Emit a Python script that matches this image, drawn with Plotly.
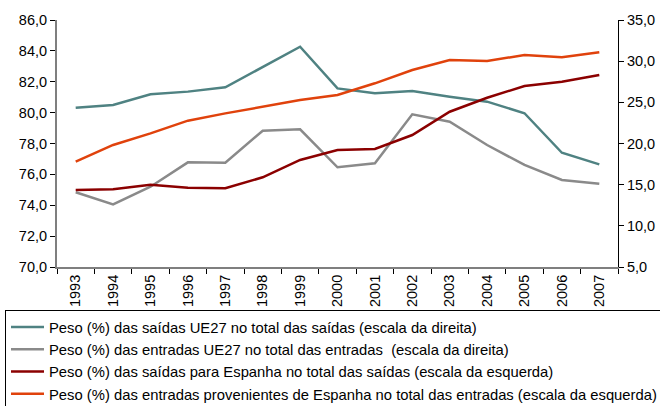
import plotly.graph_objects as go

years = [str(y) for y in range(1993, 2008)]

# Peso (%) no total (escala da esquerda, 70-86)
saidas_ue27 = [80.32, 80.50, 81.19, 81.36, 81.64, 82.98, 84.27, 81.57, 81.25, 81.40,
               81.03, 80.71, 79.96, 77.40, 76.65]
entradas_ue27 = [74.84, 74.06, 75.20, 76.78, 76.75, 78.83, 78.92, 76.46, 76.72, 79.89,
                 79.41, 77.90, 76.61, 75.64, 75.40]

# Peso (%) no total (escala da direita, 5-35)
saidas_espanha = [14.35, 14.43, 15.00, 14.63, 14.56, 15.90, 18.00, 19.21, 19.33, 21.03,
                  23.86, 25.56, 26.98, 27.50, 28.32]
entradas_espanha = [17.80, 19.82, 21.23, 22.77, 23.66, 24.47, 25.28, 25.89, 27.31, 28.93,
                    30.14, 30.02, 30.75, 30.47, 31.08]

labels = [
    "Peso (%) das saídas UE27 no total das saídas (escala da direita)",
    "Peso (%) das entradas UE27 no total das entradas  (escala da direita)",
    "Peso (%) das saídas para Espanha no total das saídas (escala da esquerda)",
    "Peso (%) das entradas provenientes de Espanha no total das entradas (escala da esquerda)",
]
colors = ["#4F8282", "#8A8A8A", "#8B0000", "#E0420C"]

left_ticks = [70, 72, 74, 76, 78, 80, 82, 84, 86]
right_ticks = [5, 10, 15, 20, 25, 30, 35]

fig = go.Figure()
series = [(saidas_ue27, "y"), (entradas_ue27, "y"),
          (saidas_espanha, "y2"), (entradas_espanha, "y2")]
for i, ((vals, ax), name, col) in enumerate(zip(series, labels, colors)):
    fig.add_trace(go.Scatter(
        x=years, y=vals, yaxis=ax, name=name, mode="lines",
        line=dict(color=col, width=2.5), legendgroup=f"g{i}",
    ))

axis_col = "#7F7F7F"
family = "Liberation Sans, Arial, sans-serif"

fig.update_layout(
    width=660, height=406,
    margin=dict(l=57, r=42, t=20, b=139, autoexpand=False),
    paper_bgcolor="white", plot_bgcolor="white",
    font=dict(family=family, size=14.5, color="#000000"),
    separators=", ",
    showlegend=True,
    legend=dict(
        xref="container", yref="container",
        x=5 / 660, y=1 - 310 / 406, xanchor="left", yanchor="top",
        bordercolor="#000000", borderwidth=1,
        font=dict(family=family, size=14.8),
        itemwidth=33, tracegroupgap=0, traceorder="grouped",
    ),
    xaxis=dict(
        type="category", range=[-0.5, 14.5], tickangle=-90,
        tickson="boundaries", ticks="outside", ticklen=5,
        tickcolor="#000000", showline=True, linecolor=axis_col, linewidth=2,
        showgrid=False, zeroline=False,
    ),
    yaxis=dict(
        range=[70, 86], tickvals=left_ticks, tickformat=".1f",
        ticks="outside", ticklen=5, tickcolor="#000000",
        showline=True, linecolor=axis_col, linewidth=2,
        showgrid=False, zeroline=False,
    ),
    yaxis2=dict(
        range=[5, 35], tickvals=right_ticks, tickformat=".1f",
        overlaying="y", side="right",
        ticks="outside", ticklen=5, tickcolor="#000000",
        showline=True, linecolor="#000000", linewidth=1,
        showgrid=False, zeroline=False,
    ),
)

fig.write_html("out.html")
